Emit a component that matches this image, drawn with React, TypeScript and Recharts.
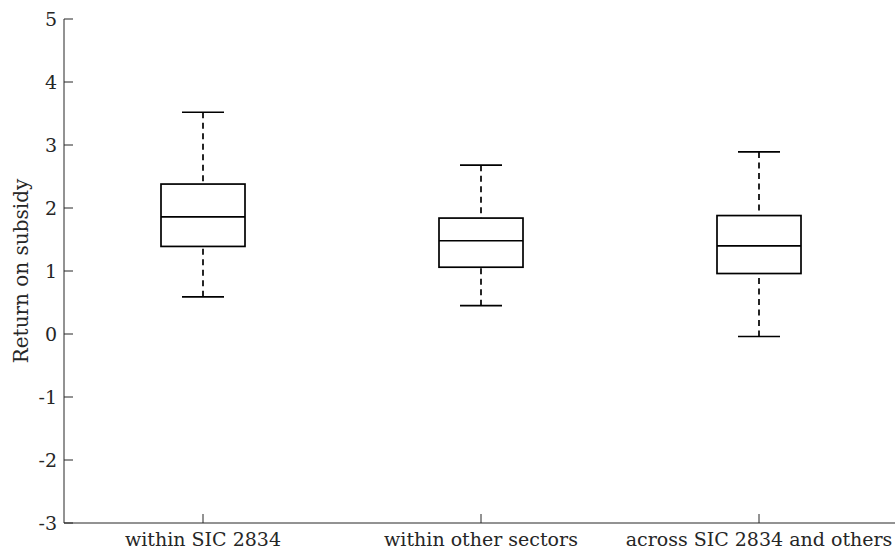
import { ComposedChart, Bar, XAxis, YAxis } from 'recharts';

const CATEGORIES = ['within SIC 2834', 'within other sectors', 'across SIC 2834 and others'];
const WHISKER_LOW = [0.59, 0.45, -0.04];
const Q1 = [1.39, 1.06, 0.96];
const MEDIAN = [1.86, 1.48, 1.4];
const Q3 = [2.38, 1.84, 1.88];
const WHISKER_HIGH = [3.52, 2.68, 2.89];
const Y_TICKS = [-3, -2, -1, 0, 1, 2, 3, 4, 5];

const FONT = '"DejaVu Serif", serif';
const AXIS = '#262626';
const TICK_LEN = 9;

const data = CATEGORIES.map((name, i) => ({
  name,
  lo: WHISKER_LOW[i],
  q1: Q1[i],
  med: MEDIAN[i],
  q3: Q3[i],
  hi: WHISKER_HIGH[i],
  range: [WHISKER_LOW[i], WHISKER_HIGH[i]],
}));

// Box + whiskers drawn inside the range bar spanning [lo, hi]
function BoxShape(props: any) {
  const { x, y, width, height, payload } = props;
  const top = Math.min(y, y + height);
  const h = Math.abs(height);
  const { lo, hi, q1, med, q3 } = payload;
  const py = (v: number) => top + (h * (hi - v)) / (hi - lo);
  const cx = x + width / 2;
  const cap = width / 4;
  return (
    <g stroke="#000" fill="none" strokeWidth={1.7}>
      <line x1={cx} x2={cx} y1={py(hi)} y2={py(q3)} strokeDasharray="6 4.5" />
      <line x1={cx} x2={cx} y1={py(lo)} y2={py(q1)} strokeDasharray="6 4.5" />
      <line x1={cx - cap} x2={cx + cap} y1={py(hi)} y2={py(hi)} />
      <line x1={cx - cap} x2={cx + cap} y1={py(lo)} y2={py(lo)} />
      <rect x={x} y={py(q3)} width={width} height={py(q1) - py(q3)} />
      <line x1={x} x2={x + width} y1={py(med)} y2={py(med)} />
    </g>
  );
}

function BottomTick({ x, y, payload }: any) {
  return (
    <g>
      <line x1={x} x2={x} y1={y - 10} y2={y - 10 - TICK_LEN} stroke={AXIS} />
      <text x={x} y={y} dy="0.71em" textAnchor="middle" fill={AXIS} fontFamily={FONT} fontSize={19}>
        {payload.value}
      </text>
    </g>
  );
}

function TopTick({ x, y }: any) {
  return <line x1={x} x2={x} y1={y} y2={y + TICK_LEN} stroke={AXIS} />;
}

function LeftTick({ x, y, payload }: any) {
  return (
    <g>
      <line x1={x + 7} x2={x + 7 + TICK_LEN} y1={y} y2={y} stroke={AXIS} />
      <text x={x} y={y} dy="0.355em" textAnchor="end" fill={AXIS} fontFamily={FONT} fontSize={19}>
        {payload.value}
      </text>
    </g>
  );
}

function RightTick({ x, y }: any) {
  return <line x1={x - TICK_LEN} x2={x} y1={y} y2={y} stroke={AXIS} />;
}

function YTitle({ viewBox }: any) {
  const tx = viewBox.x + 28;
  const ty = viewBox.y + viewBox.height / 2;
  return (
    <text
      x={tx}
      y={ty}
      transform={`rotate(-90, ${tx}, ${ty})`}
      textAnchor="middle"
      fill={AXIS}
      fontFamily={FONT}
      fontSize={20}
    >
      Return on subsidy
    </text>
  );
}

export default function App() {
  return (
    <div
      style={{
        position: 'absolute',
        left: 0,
        top: 0,
        width: 895,
        height: 551,
        overflow: 'hidden',
        background: '#fff',
      }}
    >
      <ComposedChart width={900} height={551} data={data} margin={{ top: 19, right: 2, bottom: 0, left: 0 }}>
        <XAxis
          dataKey="name"
          height={28}
          interval={0}
          tickSize={0}
          tickMargin={10}
          tickLine={false}
          axisLine={{ stroke: AXIS }}
          tick={<BottomTick />}
        />
        <XAxis
          xAxisId="top"
          dataKey="name"
          orientation="top"
          height={0}
          interval={0}
          tickSize={0}
          tickMargin={0}
          tickLine={false}
          axisLine={{ stroke: AXIS }}
          tick={<TopTick />}
        />
        <YAxis
          width={64}
          domain={[-3, 5]}
          ticks={Y_TICKS}
          interval={0}
          tickSize={0}
          tickMargin={7}
          tickLine={false}
          axisLine={{ stroke: AXIS }}
          tick={<LeftTick />}
          label={{ value: 'Return on subsidy', content: <YTitle /> }}
        />
        <YAxis
          yAxisId="right"
          orientation="right"
          width={0}
          domain={[-3, 5]}
          ticks={Y_TICKS}
          interval={0}
          tickSize={0}
          tickMargin={0}
          tickLine={false}
          axisLine={{ stroke: AXIS }}
          tick={<RightTick />}
        />
        <Bar dataKey="range" barSize={84} shape={<BoxShape />} isAnimationActive={false} />
      </ComposedChart>
    </div>
  );
}
